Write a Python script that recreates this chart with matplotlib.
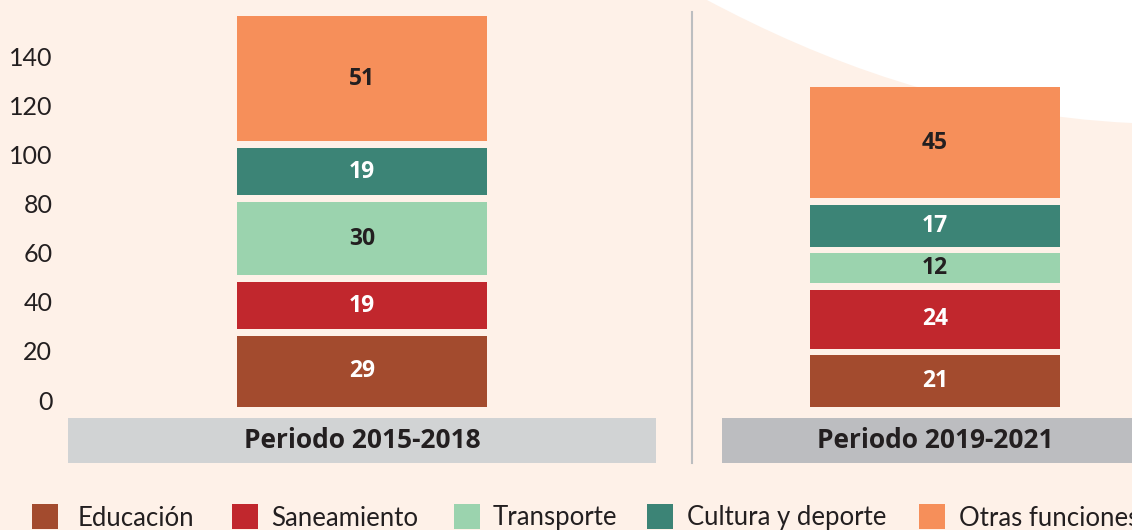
import matplotlib
matplotlib.use("Agg")
import matplotlib.pyplot as plt
from matplotlib.patches import Rectangle, PathPatch
from matplotlib.path import Path
from matplotlib.lines import Line2D
from matplotlib.transforms import ScaledTranslation

# datos (miles de millones)
periodos = ["Periodo 2015-2018", "Periodo 2019-2021"]
categorias = ["Educación", "Saneamiento", "Transporte", "Cultura y deporte", "Otras funciones"]
educacion = [29, 21]
saneamiento = [19, 24]
transporte = [30, 12]
cultura = [19, 17]
otras = [51, 45]
series = [educacion, saneamiento, transporte, cultura, otras]

colores = ["#A34B2E", "#C1272D", "#9BD3AE", "#3C8476", "#F68F5A"]
color_texto = ["white", "white", "#231F20", "white", "#231F20"]
fondo = "#FEF1E8"

W, H = 1132, 530
fig = plt.figure(figsize=(W / 100, H / 100), dpi=100)
fig.patch.set_facecolor(fondo)

def fx(px):
    return px / W

def fy(py):
    return 1 - py / H

# curva blanca arriba a la derecha
verts = [(fx(707), fy(0)), (fx(820), fy(60)), (fx(960), fy(115)), (fx(1132), fy(123)),
         (fx(1132), fy(0)), (fx(707), fy(0))]
codes = [Path.MOVETO, Path.CURVE4, Path.CURVE4, Path.CURVE4, Path.LINETO, Path.CLOSEPOLY]
fig.add_artist(PathPatch(Path(verts, codes), transform=fig.transFigure,
                         facecolor="white", edgecolor="none", zorder=0))

ax = fig.add_axes([fx(62), 0, 1 - fx(62), 1])
ax.set_zorder(2)
ax.set_facecolor("none")
escala = 2.454  # px por unidad
cero = H - 407
ax.set_ylim(-cero / escala, (H - cero) / escala)
ax.set_xlim(-300 / 573, (W - 362) / 573)
for s in ax.spines.values():
    s.set_visible(False)
ax.set_xticks([])
ax.set_yticks(range(0, 141, 20))
ax.tick_params(axis="y", length=0, pad=7, labelsize=18, labelcolor="#231F20")
subir = ScaledTranslation(0, 7 / 100, fig.dpi_scale_trans)
for lab in ax.get_yticklabels():
    lab.set_fontfamily("Lato")
    lab.set_transform(lab.get_transform() + subir)

hueco = 2.8
x = range(len(periodos))
base = [0.0] * len(periodos)
for serie, col, ct in zip(series, colores, color_texto):
    ax.bar(x, serie, bottom=base, width=250 / 573, color=col, zorder=3)
    for i, v in enumerate(serie):
        ax.text(i, base[i] + v / 2, str(v), ha="center", va="center", color=ct,
                fontsize=16.5, fontweight="bold", family="Open Sans", zorder=4)
    base = [b + v + hueco for b, v in zip(base, serie)]

# cajas de periodo
fig.add_artist(Rectangle((fx(68), fy(463)), fx(588), 45 / H, transform=fig.transFigure,
                         facecolor="#D1D3D4", edgecolor="none", zorder=1))
fig.add_artist(Rectangle((fx(722), fy(463)), fx(500), 45 / H, transform=fig.transFigure,
                         facecolor="#BCBDC0", edgecolor="none", zorder=1))
for cx, p in zip([362, 935], periodos):
    fig.text(fx(cx), fy(441), p, ha="center", va="center", fontsize=19,
             fontweight="bold", family="Open Sans", color="#231F20", zorder=3)

# separador
fig.add_artist(Line2D([fx(692), fx(692)], [fy(12), fy(463)], transform=fig.transFigure,
                      color="#BCBEC0", lw=1.5, zorder=1))

# leyenda
pos_cuadro = [32, 232, 454, 647, 919]
pos_texto = [78, 271, 493, 687, 959]
for px, tx, cat, col in zip(pos_cuadro, pos_texto, categorias, colores):
    fig.add_artist(Rectangle((fx(px), fy(529)), fx(26), 25 / H, transform=fig.transFigure,
                             facecolor=col, edgecolor="none", zorder=3))
    fig.text(fx(tx), fy(518), cat, ha="left", va="center", fontsize=18.5,
             family="Lato", color="#231F20", zorder=3)

fig.savefig("out.png", dpi=100, facecolor=fondo)
